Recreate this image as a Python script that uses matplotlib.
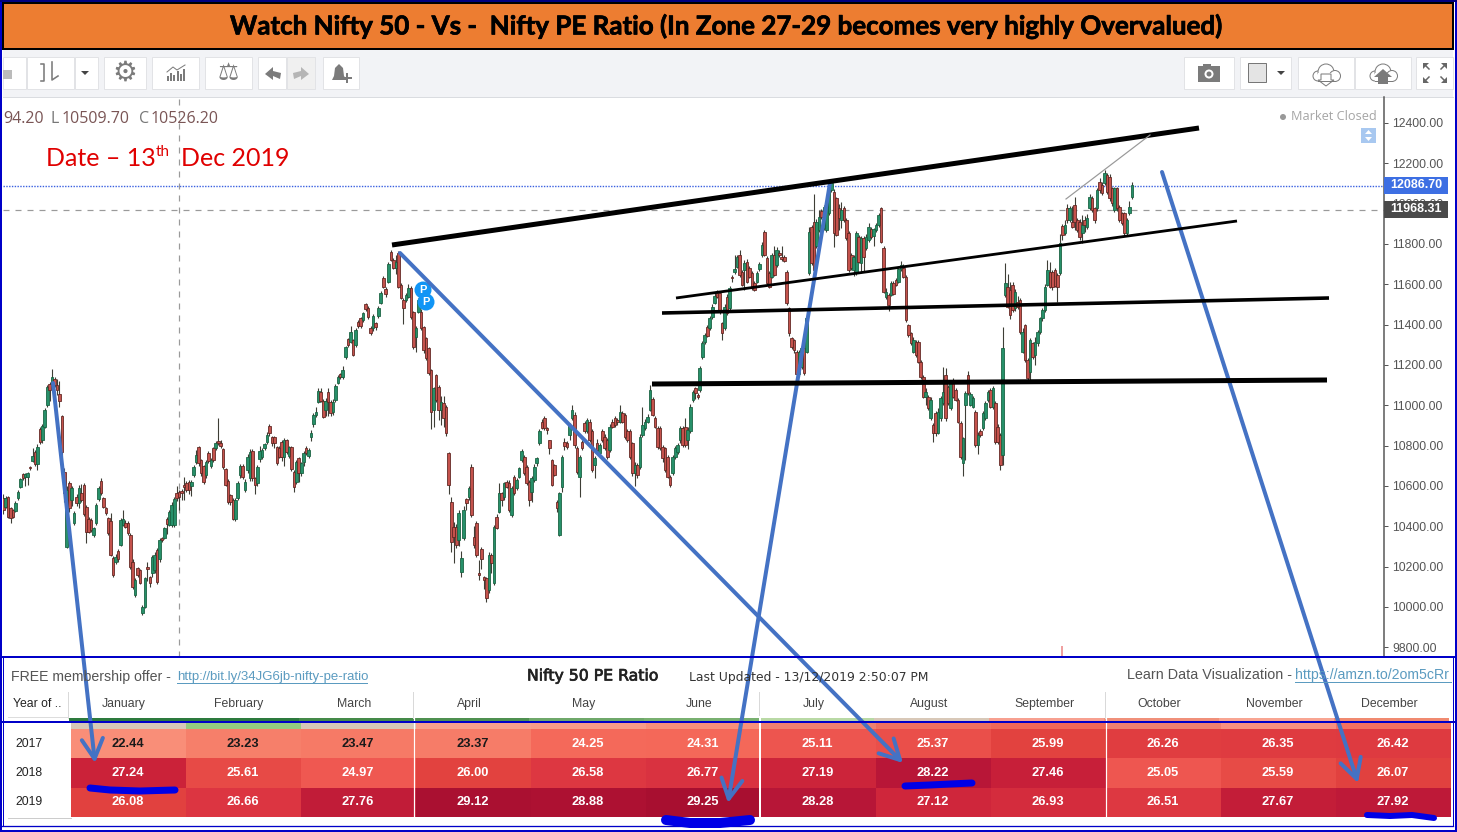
import matplotlib
matplotlib.use('Agg')
import matplotlib.pyplot as plt
import matplotlib.patheffects as pe_fx
import numpy as np
from matplotlib.colors import LinearSegmentedColormap
from matplotlib.patches import Circle, FancyArrowPatch, Polygon, Rectangle

# Nifty 50 candles in three stretches
opens_a = [
    10538,10497,10543,10488,10480,10477,10538,10596,10659,10642,
    10642,10695,10725,10769,10708,10880,10827,10890,11001,11105,
    11105,11128,11100,11054,10946,10670,10298,10616,10530,10414,
    10546,10513,10563,10604,10497,10434,10430,10356,10414,10533,
    10626,10538,10488,10439,10427,10240,10224,10278,10307,10406,
    10417,10417,10356,10224,10059,10191,10183,9968,10001,10196,
    10150,10166,10183,10282,10235,10340,10340,10434,10406,10406,
    10406,10566,10571,10576,10604,10616,10621,10599,10654,10720,
    10791,10728,10698,10654,10764,10698,10786,10786,10824,10815,
    10781,10682,10626,10554,10530,10434,10538,10654,10698,10579,
    10678,10637,10773,10637,10612,10731,10741,10786,10819,10897,
    10841,10841,10791,10786,10819,10745,10827,10748,10791,10670,
    10621,10736,10665,10720,10790,10748,10844,10907,10951,11017,
    11067,11022,10976,11067,11017,10968,11025,11112,11155,11138]
closes_a = [
    10480,10538,10447,10439,10447,10513,10571,10632,10637,10659,
    10662,10687,10748,10708,10794,10819,10897,10976,11092,11075,
    11141,11100,11075,11022,10769,10563,10579,10488,10588,10464,
    10513,10592,10530,10460,10373,10373,10381,10389,10505,10588,
    10563,10497,10464,10364,10257,10158,10249,10235,10431,10434,
    10397,10364,10199,10100,10133,10158,10120,10001,10141,10190,
    10120,10249,10257,10125,10331,10330,10389,10411,10472,10505,
    10533,10538,10546,10566,10593,10579,10579,10621,10695,10753,
    10712,10662,10621,10720,10725,10728,10728,10811,10811,10800,
    10692,10604,10521,10521,10434,10530,10612,10698,10642,10621,
    10741,10769,10637,10604,10695,10774,10778,10810,10852,10860,
    10814,10811,10715,10745,10745,10827,10769,10791,10682,10596,
    10720,10662,10712,10761,10762,10778,10864,10951,10968,11072,
    11022,10943,11022,11017,10963,11017,11095,11138,11138,11174]
highs_a = [
    10560,10550,10550,10495,10485,10525,10580,10640,10665,10665,
    10668,10700,10790,10780,10810,10890,10905,10985,11100,11115,
    11178,11140,11130,11122,10950,10690,10600,10625,10600,10475,
    10560,10605,10610,10615,10505,10445,10440,10395,10515,10600,
    10640,10545,10495,10445,10465,10250,10260,10285,10440,10482,
    10430,10425,10365,10235,10145,10200,10190,10010,10150,10225,
    10155,10255,10270,10290,10340,10345,10395,10445,10480,10520,
    10545,10600,10580,10585,10645,10625,10630,10630,10705,10780,
    10800,10735,10705,10730,10775,10740,10795,10825,10935,10830,
    10790,10690,10635,10560,10540,10540,10625,10710,10710,10635,
    10760,10785,10785,10645,10705,10800,10790,10815,10865,10905,
    10850,10850,10800,10800,10830,10840,10835,10800,10800,10680,
    10730,10745,10720,10775,10800,10790,10875,10960,10990,11085,
    11085,11030,11035,11085,11025,11030,11105,11150,11160,11195]
lows_a = [
    10460,10490,10440,10415,10440,10470,10530,10590,10630,10600,
    10605,10680,10720,10700,10680,10810,10815,10885,10990,11020,
    11090,11090,11050,10990,10750,10520,10290,10470,10500,10405,
    10500,10490,10520,10450,10315,10365,10370,10345,10405,10525,
    10555,10490,10455,10355,10250,10150,10215,10225,10300,10400,
    10390,10355,10190,10090,10050,10150,10115,9960,9995,10130,
    10100,10150,10170,10115,10225,10320,10335,10360,10400,10395,
    10395,10525,10480,10530,10530,10570,10560,10550,10645,10710,
    10700,10650,10610,10640,10715,10690,10720,10780,10805,10790,
    10685,10600,10510,10505,10430,10425,10530,10640,10635,10570,
    10665,10625,10625,10560,10600,10720,10735,10780,10810,10850,
    10800,10790,10705,10740,10725,10700,10760,10740,10675,10570,
    10610,10620,10650,10700,10755,10740,10825,10890,10940,11010,
    11015,10935,10945,10945,10945,10950,11015,11105,11130,11130]

opens_b = [
    11238,11327,11316,11324,11299,11415,11432,11423,11501,11484,
    11382,11382,11407,11443,11509,11630,11575,11613,11762,11721,
    11680,11754,11597,11522,11522,11539,11580,11465,11341,11465,
    11465,11390,11332,11283,11175,10977,11150,11093,10977,11010,
    10993,10762,10522,10398,10398,10332,10175,10340,10534,10547,
    10696,10349,10415,10167,10286,10147,10142,10084,10258,10117,
    10448,10472,10564,10547,10621,10613,10456,10646,10588,10646,
    10729,10745,10696,10621,10572,10630,10716,10815,10919,10936,
    10886,10828,10729,10704,10522,10357,10597,10820,10815,10853,
    10936,10952,10787,10646,10820,10911,10870,10919,10870,10704,
    10812,10762,10870,10845,10828,10779,10919,10936,10927,10919,
    10960,10952,10870,10870,10812,10663,10704,10696,10853,10886,
    10919,10977,11030,10936,10886,10886,10795,10787,10745,10646,
    10663,10745,10770,10828,10886,10894,10828,10870,11026,11084,
    11051]
closes_b = [
    11288,11299,11365,11250,11374,11393,11393,11456,11476,11436,
    11360,11443,11387,11481,11559,11589,11552,11701,11721,11680,
    11713,11589,11531,11481,11547,11580,11440,11291,11382,11522,
    11382,11274,11233,11159,10969,11084,11026,10977,11018,10936,
    10864,10605,10324,10349,10307,10464,10241,10481,10514,10588,
    10456,10307,10258,10159,10236,10134,10043,10258,10216,10398,
    10390,10564,10531,10613,10597,10481,10588,10564,10630,10688,
    10775,10663,10613,10531,10638,10696,10737,10870,10886,10886,
    10878,10787,10605,10655,10489,10564,10745,10798,10795,10903,
    10977,10803,10671,10745,10787,10870,10927,10828,10679,10737,
    10779,10803,10828,10787,10745,10894,10894,10903,10919,10969,
    10919,10845,10828,10745,10663,10704,10655,10845,10903,10919,
    10944,11076,10952,10894,10795,10787,10737,10679,10646,10605,
    10745,10787,10803,10886,10803,10803,10878,10993,11067,11063,
    11043]
highs_b = [
    11295,11335,11395,11330,11385,11425,11440,11465,11505,11490,
    11395,11452,11415,11490,11565,11640,11585,11712,11770,11730,
    11745,11765,11605,11530,11555,11600,11590,11470,11395,11530,
    11475,11395,11340,11290,11180,11090,11155,11100,11045,11045,
    11000,10770,10547,10420,10410,10480,10275,10500,10540,10600,
    10710,10400,10425,10233,10295,10155,10150,10270,10265,10407,
    10460,10613,10570,10620,10630,10630,10600,10655,10640,10695,
    10785,10755,10705,10630,10650,10710,10745,10880,10930,10945,
    10890,10830,10735,10710,10530,10570,10755,10840,10825,10910,
    11000,10965,10800,10755,10830,10920,10935,10930,10880,10750,
    10835,10815,10880,10855,10840,10905,10930,10945,10935,11000,
    10970,10960,10880,10880,10820,10720,10715,10855,10990,10930,
    10955,11100,11040,10945,10895,10895,10805,10795,10755,10655,
    10755,10800,10815,10895,10895,10935,10890,11005,11075,11090,
    11060]
lows_b = [
    11230,11290,11310,11245,11290,11385,11385,11415,11470,11430,
    11350,11370,11375,11435,11500,11580,11535,11605,11715,11675,
    11650,11580,11525,11405,11510,11530,11430,11280,11265,11460,
    11375,11260,11225,11150,10880,10894,11015,10925,10900,10890,
    10850,10560,10274,10216,10290,10300,10150,10330,10480,10530,
    10445,10290,10245,10134,10190,10090,10026,10070,10170,10110,
    10385,10465,10500,10530,10590,10470,10445,10555,10580,10640,
    10720,10655,10605,10498,10520,10620,10700,10805,10880,10875,
    10855,10760,10600,10650,10470,10350,10572,10780,10785,10830,
    10925,10790,10660,10547,10780,10860,10860,10820,10670,10640,
    10765,10755,10820,10780,10735,10770,10885,10890,10900,10910,
    10910,10835,10820,10735,10650,10600,10640,10685,10845,10875,
    10910,10970,10945,10885,10785,10780,10720,10670,10640,10595,
    10655,10735,10760,10815,10795,10795,10785,10860,11015,11030,
    11030]

opens_c = [
    11076,11241,11316,11390,11382,11440,11506,11559,11555,11407,
    11382,11539,11481,11635,11663,11688,11745,11663,11671,11712,
    11679,11655,11605,11613,11674,11745,11861,11729,11655,11638,
    11745,11696,11754,11734,11734,11663,11481,11332,11324,11266,
    11155,11191,11283,11266,11655,11886,11911,11790,11869,11965,
    11878,11870,11952,12068,12060,12026,11977,11919,11977,11919,
    11853,11745,11671,11655,11836,11704,11828,11779,11820,11873,
    11840,11869,11894,11977,11779,11535,11547,11547,11605,11621,
    11613,11674,11679,11638,11398,11357,11266,11316,11316,11217,
    11142,11043,11043,10935,10903,10960,10861,10935,11010,11150,
    11093,10985,11109,11076,11026,10911,10712,11002,11150,11002,
    10993,10968,10803,10870,10886,10936,11026,11076,10990,11010,
    10894,10853,10754,11547,11588,11572,11597,11481,11514,11522,
    11266,11398,11225,11167,11307,11250,11307,11365,11431,11473,
    11597,11663,11663,11671,11646,11655,11889,11853,11977,11919,
    11911,11993,11919,11911,11853,11919,11886,11977,12026,11977,
    11977,12109,12093,12101,12142,12134,12076,11969,12076,11985,
    11952,11952,11853,11952,12035]
closes_c = [
    11183,11307,11349,11345,11431,11489,11542,11539,11465,11357,
    11489,11456,11580,11630,11674,11737,11646,11597,11707,11613,
    11638,11580,11572,11654,11701,11795,11745,11605,11589,11745,
    11646,11770,11745,11724,11717,11506,11360,11291,11274,11155,
    11266,11283,11159,11431,11861,11704,11671,11911,11936,11936,
    11985,12002,12068,12101,11853,11845,11927,11969,11919,11828,
    11671,11679,11737,11853,11712,11828,11737,11836,11886,11836,
    11873,11894,11944,11812,11564,11564,11498,11605,11552,11597,
    11674,11696,11638,11423,11349,11307,11324,11250,11217,11142,
    11043,11068,10985,11026,10861,10861,10969,11035,11068,10935,
    11010,11109,11043,11026,10919,10745,10836,11059,11059,11058,
    11035,10803,10853,10853,10960,11010,11068,10993,11084,10820,
    10820,10704,11283,11605,11489,11448,11473,11564,11489,11365,
    11365,11225,11134,11324,11241,11316,11365,11431,11473,11588,
    11671,11588,11588,11592,11588,11803,11845,11894,11919,11977,
    11886,11911,11869,11836,11894,11894,11927,12035,11969,11919,
    12068,12068,12051,12150,12060,12026,12002,12076,11977,11919,
    11903,11853,11919,11982,12093]
highs_c = [
    11195,11320,11360,11400,11445,11500,11560,11570,11565,11415,
    11500,11550,11590,11645,11745,11745,11770,11670,11720,11725,
    11690,11665,11615,11665,11710,11810,11870,11740,11665,11755,
    11790,11785,11770,11790,11745,11672,11488,11340,11330,11275,
    11275,11290,11290,11440,11885,11895,12050,11925,11970,11975,
    11995,12010,12075,12110,12075,12035,12000,12010,11990,11930,
    11862,11755,11745,11865,11845,11840,11840,11850,11905,11885,
    11880,11905,11955,11985,11790,11580,11555,11615,11615,11630,
    11682,11715,11700,11645,11405,11365,11340,11325,11325,11225,
    11150,11085,11050,11040,10910,10970,10985,11045,11190,11185,
    11100,11120,11135,11085,11035,10920,10845,11070,11170,11068,
    11045,10975,10865,10880,10970,11020,11078,11085,11095,11020,
    10905,10860,11390,11704,11650,11610,11610,11575,11540,11530,
    11385,11405,11235,11335,11315,11340,11375,11440,11480,11600,
    11720,11710,11670,11680,11655,11850,11900,11920,12000,11990,
    11990,12035,11930,11925,11945,11940,11950,12050,12040,11985,
    12080,12125,12105,12165,12150,12145,12085,12085,12085,11995,
    11960,11960,11930,12015,12107]
lows_c = [
    11065,11230,11305,11340,11375,11430,11500,11530,11455,11325,
    11375,11450,11470,11610,11650,11680,11635,11590,11570,11605,
    11630,11570,11565,11605,11665,11735,11740,11595,11580,11630,
    11640,11685,11735,11715,11710,11495,11345,11280,11260,11145,
    11145,11180,11150,11260,11645,11695,11660,11780,11860,11925,
    11870,11860,11945,12060,11783,11840,11870,11880,11910,11820,
    11660,11670,11640,11645,11705,11660,11660,11770,11810,11825,
    11790,11860,11885,11805,11555,11525,11470,11540,11545,11590,
    11605,11665,11630,11415,11340,11300,11260,11240,11210,11130,
    11035,11000,10975,10925,10820,10850,10855,10920,11000,10920,
    11000,10975,11035,11020,10910,10735,10650,10730,11050,10995,
    10985,10795,10760,10845,10875,10925,11015,10985,10980,10810,
    10810,10680,10705,11535,11480,11430,11465,11470,11475,11355,
    11260,11215,11120,11110,11230,11200,11295,11355,11420,11465,
    11590,11580,11570,11585,11510,11645,11820,11845,11905,11910,
    11880,11870,11860,11820,11805,11860,11875,11970,11960,11905,
    11965,12055,12045,12090,12050,12015,11990,11960,11965,11910,
    11895,11840,11840,11945,12025]

price_ticks = [12400, 12200, 12000, 11800, 11600, 11400, 11200, 11000,
               10800, 10600, 10400, 10200, 10000, 9800]

months = ['January', 'February', 'March', 'April', 'May', 'June', 'July',
          'August', 'September', 'October', 'November', 'December']
years = ['2017', '2018', '2019']
pe_2017 = [22.44, 23.23, 23.47, 23.37, 24.25, 24.31, 25.11, 25.37, 25.99, 26.26, 26.35, 26.42]
pe_2018 = [27.24, 25.61, 24.97, 26.00, 26.58, 26.77, 27.19, 28.22, 27.46, 25.05, 25.59, 26.07]
pe_2019 = [26.08, 26.66, 27.76, 29.12, 28.88, 29.25, 28.28, 27.12, 26.93, 26.51, 27.67, 27.92]

W, H = 1457, 832
BLUE = '#4472C4'
SCRIBBLE = '#0000E6'
FRAME = '#0000C8'


def lw(px):
    return px * 0.72


def frac_axes(x0, y0, x1, y1, zorder):
    # axes placed by picture pixels
    return fig.add_axes([x0 / W, 1 - y1 / H, (x1 - x0) / W, (y1 - y0) / H], zorder=zorder)


def heavier(txt, amount):
    # the fonts here are lighter than the screenshot's
    txt.set_path_effects([pe_fx.withStroke(linewidth=amount, foreground=txt.get_color())])


fig = plt.figure(figsize=(W / 100, H / 100), dpi=100, facecolor='white')

# background layer: toolbar
base = frac_axes(0, 0, W, H, 0)
base.set_xlim(0, W)
base.set_ylim(H, 0)
base.axis('off')
base.add_patch(Rectangle((3, 50), 1450, 47, fc='#F2F3F6', ec='none'))
base.plot([3, 1453], [96.5, 96.5], color='#DADCE0', lw=lw(1))

buttons = [(3, 26), (27, 74), (75, 98), (104, 146), (152, 199), (205, 252), (258, 286),
           (323, 359), (1184, 1234), (1240, 1291), (1298, 1354), (1355, 1411), (1416, 1453)]
for x0, x1 in buttons:
    base.add_patch(Rectangle((x0, 57), x1 - x0, 32, fc='white', ec='#E2E3E6', lw=lw(1)))
base.add_patch(Rectangle((287, 57), 28, 32, fc='#F0F0F0', ec='#E2E3E6', lw=lw(1)))

ICON = '#7B7B7B'
base.add_patch(Rectangle((3, 70), 9, 9, fc='#BBBBBB', ec='none'))
base.plot([41, 44, 44, 41], [81, 81, 64, 64], color=ICON, lw=lw(1.6))
base.plot([52, 52, 58], [62, 80, 76], color=ICON, lw=lw(1.6))
base.add_patch(Polygon([[81, 71], [89, 71], [85, 75]], fc='#444444'))
base.text(125, 72.5, '\u2699', fontsize=20, color=ICON, ha='center', va='center', family='DejaVu Sans')
for i, h in enumerate([5, 8, 6, 10, 7, 12]):
    base.add_patch(Rectangle((167 + i * 3.2, 81 - h), 2, h, fc=ICON, ec='none'))
base.plot([167, 173, 177, 185], [72, 67, 70, 65], color=ICON, lw=lw(1))
base.text(228, 73, '\u2696', fontsize=17, color=ICON, ha='center', va='center', family='DejaVu Sans')
base.add_patch(Polygon([[265, 74], [273, 67], [273, 71], [281, 73], [280, 79], [273, 76], [273, 80]], fc=ICON))
base.add_patch(Polygon([[309, 74], [301, 67], [301, 71], [293, 73], [294, 79], [301, 76], [301, 80]], fc='#B5B5B5'))
base.add_patch(Polygon([[332, 80], [334, 76], [335, 68], [339, 64], [343, 68], [344, 76], [347, 80]], fc=ICON))
base.plot([342, 351], [78, 78], color=ICON, lw=lw(2))
base.plot([346.5, 346.5], [74, 82], color=ICON, lw=lw(2))

base.add_patch(Rectangle((1198, 66), 22, 16, fc=ICON, ec='none'))
base.add_patch(Rectangle((1203, 64), 8, 3, fc=ICON, ec='none'))
base.add_patch(Circle((1209, 74), 4.5, fc='white', ec='none'))
base.add_patch(Circle((1209, 74), 2.5, fc=ICON, ec='none'))
base.add_patch(Rectangle((1248, 63), 18, 19, fc='#E4E4E4', ec='#777777', lw=lw(1)))
base.add_patch(Polygon([[1277, 71], [1285, 71], [1281, 75]], fc='#444444'))
for cx in [1326, 1383]:
    base.add_patch(Circle((cx - 8, 76), 5, fc='white', ec=ICON, lw=lw(1)))
    base.add_patch(Circle((cx, 72), 8, fc='white', ec=ICON, lw=lw(1)))
    base.add_patch(Circle((cx + 9, 76), 5.5, fc='white', ec=ICON, lw=lw(1)))
    base.add_patch(Rectangle((cx - 8, 73), 17, 8, fc='white', ec='none'))
    base.plot([cx - 8, cx + 9], [81, 81], color=ICON, lw=lw(1))
base.add_patch(Polygon([[1321, 74], [1331, 74], [1331, 80], [1334, 80], [1326, 86], [1318, 80], [1321, 80]], fc='white', ec=ICON, lw=lw(1)))
base.add_patch(Polygon([[1378, 84], [1388, 84], [1388, 77], [1392, 77], [1383, 69], [1374, 77], [1378, 77]], fc=ICON))
for sx, sy in [(-1, -1), (1, -1), (-1, 1), (1, 1)]:
    cx, cy = 1435 + sx * 9, 73 + sy * 7
    base.add_patch(Polygon([[cx + sx * 3, cy + sy * 3], [cx - sx * 3, cy + sy * 3], [cx + sx * 3, cy - sy * 3]], fc='#666666'))
    base.plot([cx, cx - sx * 3], [cy, cy - sy * 3], color='#666666', lw=lw(1.5))

# candles
ax = frac_axes(3, 97, 1384, 657, 1)
ax.patch.set_alpha(0)
opens = np.array(opens_a + opens_b + opens_c)
closes = np.array(closes_a + closes_b + closes_c)
highs = np.array(highs_a + highs_b + highs_c)
lows = np.array(lows_a + lows_b + lows_c)
sessions = np.concatenate([
    np.linspace(0.1, 124, len(opens_a)),
    np.linspace(125, 253.6, len(opens_b)),
    np.linspace(254.3, 412, len(opens_c)),
])
up = closes >= opens
colors = np.where(up, '#27906A', '#C4524C')
edges = np.where(up, '#17603F', '#5E2420')
ax.vlines(sessions, lows, highs, colors='#3E3E36', lw=lw(1.1), zorder=2)
ax.bar(sessions, closes - opens, bottom=opens, width=0.95, color=colors, edgecolor=edges,
       linewidth=lw(0.8), zorder=3)
ax.set_xlim(0, 1381 / 2.74)
ax.set_ylim(12400 - 534 * 4.96, 12400 + 26 * 4.96)
ax.axhline(12086.7, color='#3A60E0', lw=lw(1.4), ls=(0, (1, 1)), zorder=1)
ax.axhline(11968.31, color='#9A9A9A', lw=lw(1.2), ls=(0, (5, 5)), zorder=1)
ax.axvline((179 - 3) / 2.74, color='#9A9A9A', lw=lw(1.2), ls=(0, (5, 5)), zorder=1)
ax.set_xticks([])
ax.yaxis.tick_right()
ax.set_yticks(price_ticks)
ax.set_yticklabels([f'{v:.2f}' for v in price_ticks], family='Liberation Sans', fontsize=8.8, color='#555555')
ax.tick_params(axis='y', length=3, width=lw(1), color='#555555', pad=3)
for side in ['top', 'left', 'bottom']:
    ax.spines[side].set_visible(False)
ax.spines['right'].set_color('#555555')
ax.spines['right'].set_linewidth(lw(1.5))

# PE heatmap
pe_cmap = LinearSegmentedColormap.from_list('pe', [
    (0.0, '#F98E78'), (0.116, '#F67F6A'), (0.266, '#F4695A'), (0.383, '#EE5650'),
    (0.523, '#E2423F'), (0.62, '#DC3541'), (0.705, '#CB2239'), (0.85, '#B81637'), (1.0, '#A80F30')])
tab = frac_axes(71, 729, 1451, 817, 2)
pe = np.array([pe_2017, pe_2018, pe_2019])
tab.pcolormesh(pe, cmap=pe_cmap, vmin=22.44, vmax=29.25)
tab.set_ylim(3, 0)
tab.axis('off')
for r in range(3):
    for c in range(12):
        tab.text(c + 0.49, r + 0.5, f'{pe[r, c]:.2f}', ha='center', va='center', family='Liberation Sans',
                 fontsize=9.3, fontweight='bold', color='#1A1A1A' if pe[r, c] < 24 else 'white')

# everything drawn by hand on top
top = frac_axes(0, 0, W, H, 3)
top.set_xlim(0, W)
top.set_ylim(H, 0)
top.axis('off')

top.add_patch(Rectangle((3, 3), 1450, 46, fc='#ED7D31', ec='black', lw=lw(2)))
title = top.text(728, 26, 'Watch Nifty 50 - Vs -  Nifty PE Ratio (In Zone 27-29 becomes very highly Overvalued)',
                 ha='center', va='center', family='Lato', fontweight='bold', fontsize=18.7, color='black')
heavier(title, 0.5)

for x, s, col in [(3, '94.20', '#7A5555'), (51, 'L', '#777777'), (62, '10509.70', '#7A5555'),
                  (139, 'C', '#777777'), (151, '10526.20', '#7A5555')]:
    top.text(x, 119, s, fontsize=11.5, family='Open Sans', color=col, va='center')
top.text(46, 158.5, 'Date \u2013 13', fontsize=18, family='Lato', color='#E00000', va='center')
top.text(156, 151.5, 'th', fontsize=11, family='Lato', color='#E00000', va='center')
top.text(181, 158.5, 'Dec 2019', fontsize=18, family='Lato', color='#E00000', va='center')

top.add_patch(Circle((1283, 117), 3, fc='#999999', ec='none'))
top.text(1291, 116.5, 'Market Closed', fontsize=9.2, family='Open Sans', color='#A5A5A5', va='center')
top.add_patch(Rectangle((1361, 128), 15, 15, fc='#A8C8F0', ec='none'))
top.add_patch(Polygon([[1365, 134], [1372, 134], [1368.5, 130]], fc='white'))
top.add_patch(Polygon([[1365, 137], [1372, 137], [1368.5, 141]], fc='white'))

top.add_patch(Rectangle((1384, 177), 64, 17, fc='#3D6FE3', ec='none'))
top.text(1416, 185.5, '12086.70', fontsize=9, family='Liberation Sans', fontweight='bold', color='white', ha='center', va='center')
top.add_patch(Rectangle((1384, 201), 64, 17, fc='#4A4A4A', ec='none'))
top.text(1416, 209.5, '11968.31', fontsize=9, family='Liberation Sans', fontweight='bold', color='white', ha='center', va='center')

for (x0, y0, x1, y1, width) in [(392, 245, 1199, 128, 5), (676, 298, 1237, 221, 2.8),
                                (662, 313, 1329, 298, 3.6), (652, 384, 1327, 380, 5)]:
    top.plot([x0, x1], [y0, y1], color='black', lw=lw(width), solid_capstyle='butt')
top.plot([1066, 1150], [199, 135], color='#999999', lw=lw(1.2))

for cx, cy in [(423, 290), (426, 302)]:
    top.add_patch(Circle((cx, cy), 8.5, fc='#1195F5', ec='none'))
    top.text(cx, cy, 'P', fontsize=8, fontweight='bold', family='Liberation Sans', color='white', ha='center', va='center')
top.plot([1062, 1062], [647, 657], color='#F0A0A0', lw=lw(2))

# table header
top.text(11, 677, 'FREE membership offer - ', fontsize=10.2, family='Liberation Sans', color='#555555', va='center')
top.text(177, 677, 'http://bit.ly/34JG6jb-nifty-pe-ratio', fontsize=9.5, family='Liberation Sans', color='#5B9BC0', va='center')
top.plot([177, 367], [683, 683], color='#5B9BC0', lw=lw(1))
nifty = top.text(527, 676, 'Nifty 50 PE Ratio', fontsize=11.3, family='DejaVu Sans', color='#222222', va='center')
heavier(nifty, 0.5)
top.text(689, 677, 'Last Updated - 13/12/2019 2:50:07 PM', fontsize=8.9, family='DejaVu Sans', color='#333333', va='center')
top.text(1127, 675, 'Learn Data Visualization - ', fontsize=10.4, family='Liberation Sans', color='#555555', va='center')
top.text(1295, 675, 'https://amzn.to/2om5cRr', fontsize=10.2, family='Liberation Sans', color='#5B9BC0', va='center')
top.plot([1295, 1451], [682, 682], color='#5B9BC0', lw=lw(1))

top.text(13, 704, 'Year of ..', fontsize=8.8, family='Liberation Sans', color='#222222', va='center')
for i, month in enumerate(months):
    top.text(124 + 115 * i, 704, month, fontsize=8.8, family='Liberation Sans', color='#444444', ha='center', va='center')
for x in [68, 413, 759, 1105]:
    top.plot([x, x], [692, 718], color='#D9D9D9', lw=lw(1))
top.plot([8, 68], [716.5, 716.5], color='#DDDDDD', lw=lw(1))

strip_top = ['#2D7A3E', '#2D7A3E', '#458A49', '#4F9050', '#6FA86A', '#79B070',
             '#B9D9A5', '#D8C8B8', '#F7A090', '#F0907A', '#F8A592', '#F08A70']
strip_low = ['#D5C8B8', '#94CC80', '#D5C8B8', '#F7A08C', '#F89C88', '#F8907A',
             '#F08070', '#F07060', '#F06858', '#F08070', '#F89080', '#F47060']
for i in range(12):
    top.add_patch(Rectangle((69 + 115 * i, 717.5), 115, 4, fc=strip_top[i], ec='none'))
    top.add_patch(Rectangle((71 + 115 * i, 723), 115, 6, fc=strip_low[i], ec='none'))
for x, width in [(414, 1.2), (760, 2), (1106, 1.2)]:
    top.plot([x, x], [717, 817], color='white', lw=lw(width))

for i, year in enumerate(years):
    top.text(15, 744 + 29 * i, year, fontsize=8.8, family='Liberation Sans', color='#222222', va='center')
top.plot([8, 71], [817.5, 817.5], color='#CCCCCC', lw=lw(1))

# blue frames
top.plot([0, W], [657, 657], color=FRAME, lw=lw(2))
top.plot([0, W], [721.5, 721.5], color=FRAME, lw=lw(2))
top.plot([2, 1453], [825.5, 825.5], color=FRAME, lw=lw(1.3))
top.plot([0, W], [831, 831], color=FRAME, lw=lw(2))
top.plot([1, 1], [0, H], color=FRAME, lw=lw(2))
top.plot([1455.5, 1455.5], [0, H], color=FRAME, lw=lw(2))
top.plot([1, W], [1, 1], color='#000080', lw=lw(2))
top.plot([2.5, 2.5], [657, 826], color=FRAME, lw=lw(1))
top.plot([1453, 1453], [657, 826], color=FRAME, lw=lw(1))

# arrows and highlight strokes on top of the table
for start, end in [((53, 383), (95, 763)), ((400, 253), (903, 763)),
                   ((830, 183), (728, 803)), ((1162, 172), (1358, 783))]:
    top.add_patch(FancyArrowPatch(start, end, arrowstyle='->,head_length=0.75,head_width=0.4',
                                  mutation_scale=19, color=BLUE, lw=lw(4), shrinkA=0, shrinkB=0))
for xs, ys, width in [([90, 110, 140, 175], [788, 790, 791, 790], 7),
                      ([666, 690, 720, 750], [820, 823, 823, 820], 10),
                      ([905, 930, 950, 972], [786, 785, 784, 783], 7),
                      ([1367, 1390, 1412, 1434], [815, 816, 815, 818], 6)]:
    top.plot(xs, ys, color=SCRIBBLE, lw=lw(width), solid_capstyle='round')

fig.savefig('out.png', dpi=100)
